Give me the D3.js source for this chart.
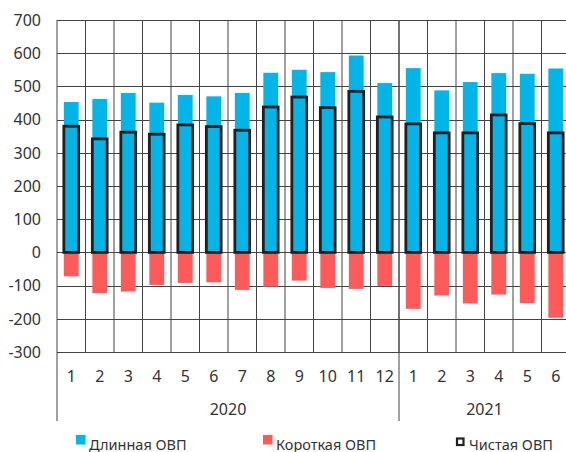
<!DOCTYPE html>
<html>
<head>
<meta charset="utf-8">
<script src="https://cdn.jsdelivr.net/npm/d3@7"></script>
<style>
  body { margin: 0; background: #fff; }
  svg { display: block; font-family: "Noto Sans", sans-serif; }
</style>
</head>
<body>
<svg id="chart" width="566" height="452"></svg>
<script>
// months per year group
const years = ['2020', '2021'];
const months = [
  ['1', '2', '3', '4', '5', '6', '7', '8', '9', '10', '11', '12'],
  ['1', '2', '3', '4', '5', '6']
];
const longOvp = [453, 462, 480, 451, 474, 470, 480, 541, 550, 543, 593, 510, 555, 488, 513, 540, 538, 554];
const shortOvp = [-72, -123, -118, -98, -92, -90, -113, -103, -85, -107, -110, -101, -170, -130, -154, -127, -153, -197];
const netOvp = [380, 342, 362, 356, 384, 379, 368, 438, 468, 436, 485, 408, 387, 360, 360, 414, 388, 360];
const yTicks = [-300, -200, -100, 0, 100, 200, 300, 400, 500, 600, 700];
const seriesNames = ['Длинная ОВП', 'Короткая ОВП', 'Чистая ОВП'];

const blue = '#00B5E8';
const red = '#FF5A5A';
const dark = '#231F20';

const margin = { top: 20, left: 57, right: -4, bottom: 100 };
const width = 566, height = 452;
const svg = d3.select('#chart');

// flatten categories to unique keys
const cats = [];
months.forEach((ms, i) => ms.forEach(m => cats.push(years[i] + '-' + m)));

const x = d3.scaleBand()
  .domain(cats)
  .range([margin.left, width - margin.right])
  .paddingInner(0).paddingOuter(0);

const y = d3.scaleLinear()
  .domain([-300, 700])
  .range([352, margin.top]);

const barW = x.bandwidth() * 0.52;
const bx = i => x(cats[i]) + (x.bandwidth() - barW) / 2;

// grid
const grid = svg.append('g').attr('stroke', '#444').attr('stroke-width', 1);
grid.selectAll('line.h')
  .data(yTicks)
  .join('line')
  .attr('x1', margin.left).attr('x2', width - margin.right)
  .attr('y1', d => Math.round(y(d)) + 0.5).attr('y2', d => Math.round(y(d)) + 0.5);
grid.selectAll('line.v')
  .data(cats.slice(1))
  .join('line')
  .attr('x1', d => x(d)).attr('x2', d => x(d))
  .attr('y1', y(700)).attr('y2', y(-300));

// year separators below the axis
const yearBounds = [0, months[0].length, cats.length];
svg.append('g').attr('stroke', '#444').attr('stroke-width', 1)
  .selectAll('line')
  .data(yearBounds)
  .join('line')
  .attr('x1', i => i < cats.length ? x(cats[i]) : width - margin.right)
  .attr('x2', i => i < cats.length ? x(cats[i]) : width - margin.right)
  .attr('y1', y(700)).attr('y2', 421);

// long bars
svg.append('g').selectAll('rect')
  .data(longOvp)
  .join('rect')
  .attr('x', (d, i) => bx(i))
  .attr('width', barW)
  .attr('y', d => y(d))
  .attr('height', d => y(0) - y(d))
  .attr('fill', blue);

// short bars
svg.append('g').selectAll('rect')
  .data(shortOvp)
  .join('rect')
  .attr('x', (d, i) => bx(i))
  .attr('width', barW)
  .attr('y', y(0))
  .attr('height', d => y(d) - y(0))
  .attr('fill', red);

// net bars
svg.append('g').selectAll('rect')
  .data(netOvp)
  .join('rect')
  .attr('x', (d, i) => bx(i))
  .attr('width', barW)
  .attr('y', d => y(d))
  .attr('height', d => y(0) - y(d))
  .attr('fill', blue)
  .attr('stroke', dark)
  .attr('stroke-width', 2.8);

// y labels
svg.append('g').selectAll('text')
  .data(yTicks)
  .join('text')
  .attr('x', 41)
  .attr('y', d => y(d))
  .attr('dy', '0.36em')
  .attr('text-anchor', 'end')
  .attr('font-size', 16)
  .attr('fill', '#333')
  .text(d => d);

// month labels
svg.append('g').selectAll('text')
  .data(cats)
  .join('text')
  .attr('x', d => x(d) + x.bandwidth() / 2)
  .attr('y', 382)
  .attr('text-anchor', 'middle')
  .attr('font-size', 16)
  .attr('fill', '#333')
  .text(d => d.split('-')[1]);

// year labels
svg.append('g').selectAll('text')
  .data(years)
  .join('text')
  .attr('x', (d, i) => {
    const a = x(cats[yearBounds[i]]);
    const b = yearBounds[i + 1] < cats.length ? x(cats[yearBounds[i + 1]]) : width - margin.right;
    return (a + b) / 2;
  })
  .attr('y', 415)
  .attr('text-anchor', 'middle')
  .attr('font-size', 16)
  .attr('fill', '#333')
  .text(d => d);

// legend
const legend = [
  { name: seriesNames[0], x: 76, type: 'fill', color: blue },
  { name: seriesNames[1], x: 263, type: 'fill', color: red },
  { name: seriesNames[2], x: 456, type: 'outline', color: dark }
];
const lg = svg.append('g').selectAll('g')
  .data(legend)
  .join('g');
lg.filter(d => d.type === 'fill').append('rect')
  .attr('x', d => d.x).attr('y', 435)
  .attr('width', 9.5).attr('height', 9.5)
  .attr('fill', d => d.color);
lg.filter(d => d.type === 'outline').append('rect')
  .attr('x', d => d.x + 1).attr('y', 438.5)
  .attr('width', 6.5).attr('height', 6.5)
  .attr('fill', 'none')
  .attr('stroke', d => d.color)
  .attr('stroke-width', 2.2);
lg.append('text')
  .attr('x', d => d.x + 13)
  .attr('y', 449.5)
  .attr('font-size', 14.5)
  .attr('fill', '#333')
  .text(d => d.name);
</script>
</body>
</html>
